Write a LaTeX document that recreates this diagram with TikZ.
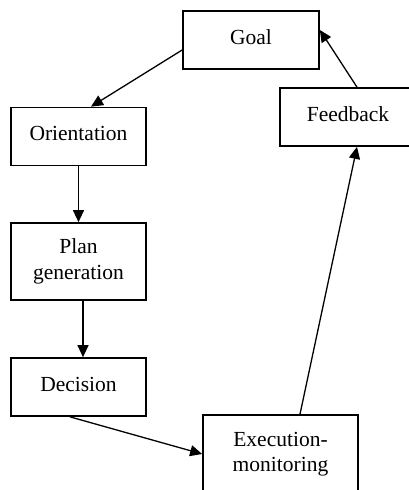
\documentclass[tikz,border=0pt]{standalone}
\usepackage{fontspec}
\setmainfont{Liberation Serif}
\usetikzlibrary{arrows.meta}
\begin{document}
\begin{tikzpicture}[x=1pt,y=-1pt,
  box/.style={draw, line width=1.7pt, rectangle, inner sep=0pt, align=center,
    font=\fontsize{21.5}{25.5}\selectfont, minimum width=135pt},
  oneline/.style={box, minimum height=58pt, text height=15pt, text depth=7pt},
  twoline/.style={box, minimum height=77pt},
  flow/.style={line width=1.3pt, -{Triangle[length=12pt,width=11pt]}}]
\useasboundingbox (0,0) rectangle (409,490);
\clip (0,0) rectangle (409,490);

% boxes of the cycle
\node[oneline, minimum width=136pt] (goal) at (251,40) {Goal};
\node[oneline] (orient) at (78.5,136.5) {Orientation};
\node[twoline] (plan) at (78.5,261.5) {Plan\\generation};
\node[oneline] (dec) at (78.5,387) {Decision};
\node[twoline, minimum width=155pt, minimum height=78pt] (exec) at (280.5,454) {Execution-\\monitoring};
\node[oneline, minimum width=136pt] (feed) at (348,117) {Feedback};

% connectors
\draw[flow] ([yshift=-10pt]goal.west) -- ([xshift=12.5pt]orient.north);
\draw[flow] (orient.south) -- (plan.north);
\draw[flow] ([xshift=4.5pt]plan.south) -- ([xshift=4.5pt]dec.north);
\draw[flow] ([xshift=-8.5pt]dec.south) -- (exec.west);
\draw[flow] ([xshift=19.5pt]exec.north) -- ([xshift=9pt]feed.south);
\draw[flow] ([xshift=9pt]feed.north) -- ([yshift=10pt]goal.east);
\end{tikzpicture}
\end{document}
